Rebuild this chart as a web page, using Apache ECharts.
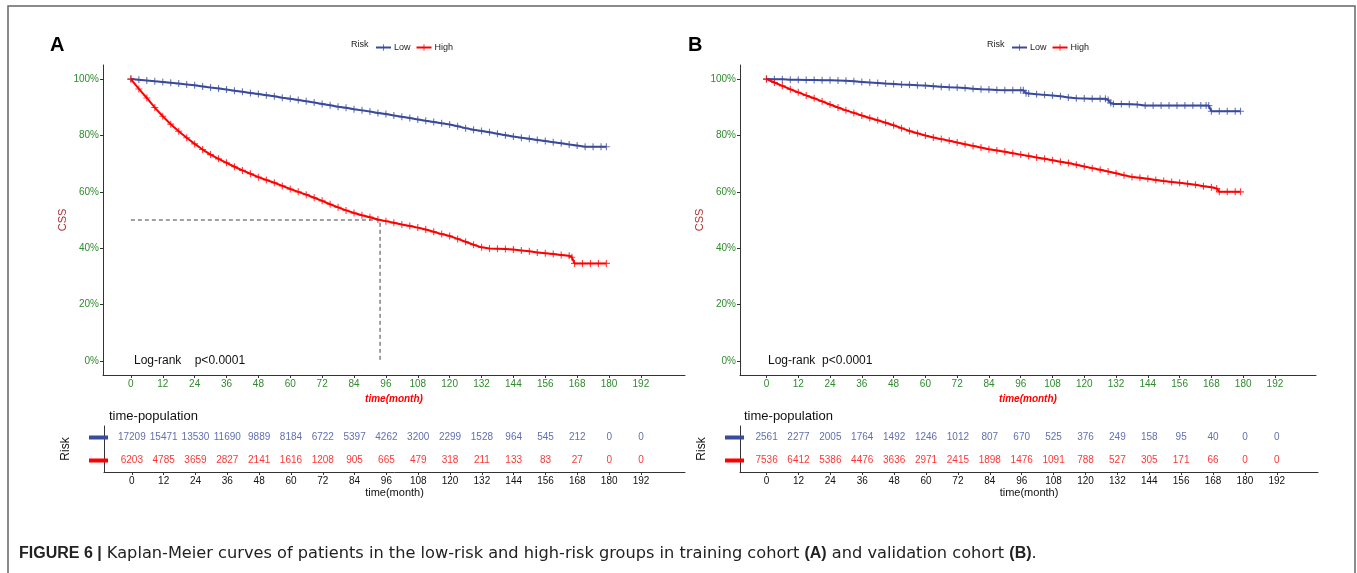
<!DOCTYPE html>
<html><head><meta charset="utf-8">
<script src="https://cdn.jsdelivr.net/npm/echarts@6/dist/echarts.min.js"></script>
<style>html,body{margin:0;padding:0;background:#fff}#c{width:1357px;height:573px}</style>
</head><body><div id="c"></div>
<script>
// ---------- data ----------
const months = [0,12,24,36,48,60,72,84,96,108,120,132,144,156,168,180,192];
const pctTicks = [0,20,40,60,80,100];

const riskA_low  = [17209,15471,13530,11690,9889,8184,6722,5397,4262,3200,2299,1528,964,545,212,0,0];
const riskA_high = [6203,4785,3659,2827,2141,1616,1208,905,665,479,318,211,133,83,27,0,0];
const riskB_low  = [2561,2277,2005,1764,1492,1246,1012,807,670,525,376,249,158,95,40,0,0];
const riskB_high = [7536,6412,5386,4476,3636,2971,2415,1898,1476,1091,788,527,305,171,66,0,0];

const tA_low = [0,3,6,9,12,15,18,21,24,27,30,33,36,39,42,45,48,51,54,57,60,63,66,69,72,75,78,81,84,87,90,93,96,99,102,105,108,111,114,117,120,123,126,129,132,135,138,141,144,147,150,153,156,159,162,165,168,171,174,177,179];
const sA_low = [100,99.8,99.5,99.2,99.0,98.7,98.4,98.1,97.8,97.4,97.0,96.7,96.3,95.9,95.5,95.1,94.7,94.3,93.9,93.4,93.0,92.6,92.1,91.7,91.2,90.7,90.2,89.8,89.3,88.9,88.5,88.0,87.6,87.1,86.6,86.2,85.7,85.2,84.8,84.3,83.9,83.3,82.6,82.0,81.6,81.1,80.6,80.1,79.6,79.2,78.8,78.4,78.0,77.6,77.2,76.8,76.4,76.0,76.0,76.0,76.0];

const tA_high = [0,3,6,9,12,15,18,21,24,27,30,33,36,39,42,45,48,51,54,57,60,63,66,69,72,75,78,81,84,87,90,93,96,99,102,105,108,111,114,117,120,123,126,129,132,135,138,141,144,147,150,153,156,159,162,165,166,167,170,173,176,179];
const sA_high = [100,96.5,93.3,89.9,86.8,84.0,81.5,79.2,77.0,75.0,73.2,71.7,70.3,68.9,67.6,66.4,65.2,64.2,63.2,62.1,61.0,60.0,59.0,57.9,56.8,55.6,54.5,53.4,52.5,51.7,51.0,50.2,49.6,49.0,48.4,47.9,47.3,46.6,45.8,45.0,44.3,43.3,42.3,41.2,40.3,39.9,39.8,39.7,39.5,39.2,38.9,38.5,38.2,37.9,37.6,37.3,36.8,34.6,34.6,34.6,34.6,34.6];

const tB_low = [0,3,6,9,12,15,18,21,24,27,30,33,36,39,42,45,48,51,54,57,60,63,66,69,72,75,78,81,84,87,90,93,96,97,98,99,102,105,108,111,114,117,120,123,126,128,129,130,131,134,137,140,143,146,149,152,155,158,161,164,166,167,168,171,174,177,179];
const sB_low = [100,99.9,99.9,99.8,99.8,99.7,99.7,99.6,99.6,99.5,99.4,99.2,99.0,98.8,98.6,98.4,98.3,98.1,98.0,97.8,97.7,97.5,97.3,97.1,97.0,96.8,96.6,96.4,96.3,96.1,96.0,96.0,96.0,96.0,95.0,94.9,94.6,94.4,94.2,93.9,93.5,93.2,93.1,93.0,93.0,93.0,92.6,91.5,91.2,91.2,91.1,91.0,90.6,90.6,90.6,90.6,90.6,90.6,90.6,90.6,90.6,90.6,88.6,88.6,88.6,88.6,88.6];

const tB_high = [0,3,6,9,12,15,18,21,24,27,30,33,36,39,42,45,48,51,54,57,60,63,66,69,72,75,78,81,84,87,90,93,96,99,102,105,108,111,114,117,120,123,126,129,132,135,138,141,144,147,150,153,156,159,162,165,168,170,171,174,177,179];
const sB_high = [100,98.8,97.6,96.4,95.3,94.2,93.2,92.1,91.0,89.9,88.9,88.0,87.1,86.2,85.4,84.5,83.6,82.6,81.6,80.8,80.0,79.3,78.7,78.1,77.5,76.9,76.3,75.7,75.1,74.7,74.2,73.7,73.2,72.7,72.2,71.7,71.2,70.7,70.2,69.6,69.0,68.4,67.8,67.2,66.6,65.9,65.3,65.0,64.6,64.2,63.8,63.5,63.2,62.9,62.5,62.0,61.6,61.2,60.0,60.0,60.0,60.0];

const medianA = 93.8;   // median survival time of high-risk group (months)
const medianLevel = 50; // %

// ---------- styles ----------
const BLUE = '#3A4A9C', RED = '#FF0000', GREEN = '#2E8B2E', CSSCOL = '#B03030';
const FONT = 'Arial, "Liberation Sans", sans-serif';
const PLUS = 'path://M4.2,0H5.8V4.2H10V5.8H5.8V10H4.2V5.8H0V4.2H4.2Z';

const zip = (t, s) => t.map((v, i) => [v, s[i]]);
const rows = (arr, name) => months.map((m, i) => [m, name, arr[i]]);

const panels = [
  {plot:{left:103, top:65, width:582, height:310}, table:{left:104, top:426, width:581, height:46}, xmin:-10.5, xmax:208.6,
   low:zip(tA_low,sA_low), high:zip(tA_high,sA_high), rLow:riskA_low, rHigh:riskA_high},
  {plot:{left:740, top:65, width:576, height:310}, table:{left:740, top:426, width:578, height:46}, xmin:-10.0, xmax:207.5,
   low:zip(tB_low,sB_low), high:zip(tB_high,sB_high), rLow:riskB_low, rHigh:riskB_high}
];

const grid = [], xAxis = [], yAxis = [], series = [];
const axLine = {show:true, onZero:false, lineStyle:{color:'#333', width:1}};
panels.forEach((p, k) => {
  const gp = grid.length;
  grid.push(p.plot); grid.push(p.table);
  xAxis.push({type:'value', gridIndex:gp, min:p.xmin, max:p.xmax, splitLine:{show:false},
    axisLine:axLine, axisTick:{show:true, length:3, inside:false, customValues:months, lineStyle:{color:'#333'}},
    axisLabel:{customValues:months, color:GREEN, fontSize:10, fontFamily:FONT, margin:4},
    name:'time(month)', nameLocation:'middle', nameGap:15,
    nameTextStyle:{color:RED, fontSize:10, fontWeight:'bold', fontStyle:'italic', fontFamily:FONT}});
  yAxis.push({type:'value', gridIndex:gp, min:-5, max:105, splitLine:{show:false},
    axisLine:axLine, axisTick:{show:true, length:3, customValues:pctTicks, lineStyle:{color:'#333'}},
    axisLabel:{customValues:pctTicks, formatter:v => v + '%', color:GREEN, fontSize:10, fontFamily:FONT, margin:4},
    name:'CSS', nameLocation:'middle', nameGap:35, nameRotate:90,
    nameTextStyle:{color:CSSCOL, fontSize:11, fontFamily:FONT}});
  xAxis.push({type:'value', gridIndex:gp+1, min:p.xmin, max:p.xmax, splitLine:{show:false},
    axisLine:axLine, axisTick:{show:true, length:3, customValues:months, lineStyle:{color:'#333'}},
    axisLabel:{customValues:months, color:'#111', fontSize:10, fontFamily:FONT, margin:4},
    name:'time(month)', nameLocation:'middle', nameGap:15,
    nameTextStyle:{color:'#111', fontSize:11, fontFamily:FONT}});
  yAxis.push({type:'category', gridIndex:gp+1, data:['High','Low'], splitLine:{show:false},
    axisLine:axLine, axisTick:{show:false},
    axisLabel:{margin:-4, formatter:v => v === 'Low' ? '{l|}' : '{h|}',
      rich:{l:{backgroundColor:BLUE, width:19, height:4}, h:{backgroundColor:RED, width:19, height:4}}},
    name:'Risk', nameLocation:'middle', nameGap:32, nameRotate:90,
    nameTextStyle:{color:'#111', fontSize:12, fontFamily:FONT}});

  const mk = (name, data, color) => ({type:'line', name, xAxisIndex:gp, yAxisIndex:gp, data,
    lineStyle:{color, width:2}, itemStyle:{color, opacity:0.75}, symbol:PLUS, symbolSize:7,
    showAllSymbol:true, animation:false, z:3});
  series.push(mk('Low', p.low, BLUE));
  series.push(mk('High', p.high, RED));
  if (k === 0) {
    series.push({type:'line', name:'median', xAxisIndex:gp, yAxisIndex:gp,
      data:[[0, medianLevel],[medianA, medianLevel],[medianA, 0]], symbol:'none',
      lineStyle:{color:'#111', width:0.8, type:[4,3]}, animation:false, z:2, silent:true});
  }
  const tbl = (arr, name, color) => ({type:'scatter', xAxisIndex:gp+1, yAxisIndex:gp+1, symbolSize:0,
    data:rows(arr, name), animation:false, silent:true,
    label:{show:true, position:'inside', formatter:q => q.data[2], color, fontSize:10, fontFamily:FONT}});
  series.push(tbl(p.rLow, 'Low', BLUE));
  series.push(tbl(p.rHigh, 'High', RED));
});

const legendBase = {data:['Low','High'], itemWidth:15, itemHeight:8, itemGap:5, top:38,
  textStyle:{fontSize:9, color:'#222', fontFamily:FONT, padding:[0,0,0,-2]}, selectedMode:false};

const CAPFONT = '"DejaVu Sans", Arial, sans-serif';
const chart = echarts.init(document.getElementById('c'), null, {renderer:'canvas'});
chart.setOption({
  animation:false,
  backgroundColor:'#fff',
  title:[
    {text:'A', left:45, top:30, textStyle:{fontSize:20, fontWeight:'bold', color:'#000', fontFamily:FONT}},
    {text:'B', left:683, top:30, textStyle:{fontSize:20, fontWeight:'bold', color:'#000', fontFamily:FONT}},
    {text:'time-population', left:104, top:405, textStyle:{fontSize:13, fontWeight:'normal', color:'#111', fontFamily:FONT}},
    {text:'time-population', left:739, top:405, textStyle:{fontSize:13, fontWeight:'normal', color:'#111', fontFamily:FONT}},
    {text:'{b|FIGURE 6 |} Kaplan-Meier curves of patients in the low-risk and high-risk groups in training cohort {b|(A)} and validation cohort {b|(B)}.',
     left:14, top:541, textStyle:{fontSize:16.2, fontWeight:'normal', color:'#222', fontFamily:CAPFONT,
       rich:{b:{fontSize:16, fontWeight:'bold', color:'#222', fontFamily:FONT}}}}
  ],
  legend:[
    Object.assign({left:370}, legendBase),
    Object.assign({left:1006}, legendBase)
  ],
  grid, xAxis, yAxis, series,
  graphic:[
    {type:'rect', shape:{x:8, y:6, width:1347, height:600}, style:{fill:'none', stroke:'#666', lineWidth:1.5}, silent:true},
    {type:'text', left:351, top:40, style:{text:'Risk', fontSize:9, fill:'#222', fontFamily:FONT}},
    {type:'text', left:987, top:40, style:{text:'Risk', fontSize:9, fill:'#222', fontFamily:FONT}},
    {type:'text', left:134, top:355, style:{text:'Log-rank    p<0.0001', fontSize:12, fill:'#111', fontFamily:FONT}},
    {type:'text', left:768, top:355, style:{text:'Log-rank  p<0.0001', fontSize:12, fill:'#111', fontFamily:FONT}}
  ]
});
</script></body></html>
